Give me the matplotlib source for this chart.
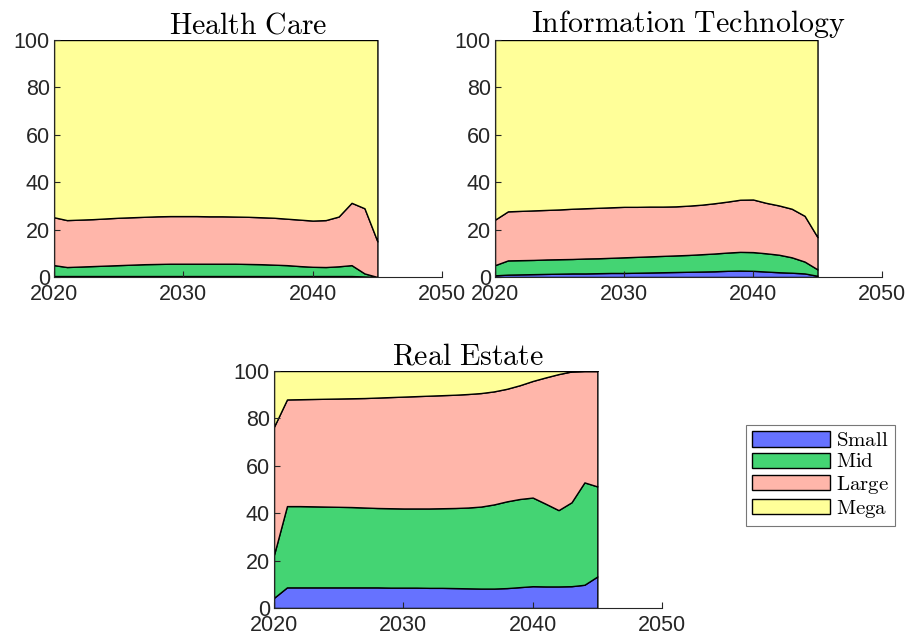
import matplotlib
matplotlib.use("Agg")
import matplotlib.pyplot as plt

plt.rcParams["mathtext.fontset"] = "cm"
plt.rcParams["font.family"] = ["Liberation Sans", "DejaVu Sans"]

years = list(range(2020, 2046))
size_classes = ["Small", "Mid", "Large", "Mega"]

# percentage share of each size class, per year
hc_small = [0.4] * 24 + [0.2, 0.0]
hc_mid = [4.6, 3.8, 4.0, 4.2, 4.4, 4.6, 4.8, 5.0, 5.1, 5.2, 5.2, 5.2, 5.2, 5.2, 5.2,
          5.1, 5.0, 4.8, 4.6, 4.2, 3.9, 3.8, 4.1, 4.6, 1.3, 0.0]
hc_large = [20.2, 19.8, 19.8, 19.8, 19.9, 20.0, 20.0, 20.0, 20.1, 20.1, 20.1, 20.1, 20.0,
            20.0, 19.9, 19.9, 19.8, 19.8, 19.6, 19.6, 19.5, 19.8, 21.0, 26.3, 27.5, 15.0]
hc_mega = [74.8, 76.0, 75.8, 75.6, 75.3, 75.0, 74.8, 74.6, 74.4, 74.3, 74.3, 74.3, 74.4,
           74.4, 74.5, 74.6, 74.8, 75.0, 75.4, 75.8, 76.2, 76.0, 74.5, 68.7, 71.0, 85.0]

it_small = [0.7, 1.0, 1.1, 1.2, 1.3, 1.4, 1.5, 1.5, 1.6, 1.7, 1.7, 1.8, 1.9, 2.0, 2.1,
            2.2, 2.3, 2.4, 2.6, 2.7, 2.6, 2.3, 2.0, 1.8, 1.5, 0.5]
it_mid = [4.3, 6.0, 6.0, 6.0, 6.1, 6.1, 6.1, 6.3, 6.3, 6.4, 6.6, 6.7, 6.8, 6.9, 7.0,
          7.1, 7.3, 7.5, 7.7, 7.9, 7.9, 7.7, 7.4, 6.5, 5.0, 2.7]
it_large = [19.2, 20.7, 20.8, 20.9, 20.9, 21.0, 21.2, 21.2, 21.3, 21.3, 21.3, 21.1, 21.0,
            20.8, 20.7, 20.8, 20.9, 21.2, 21.5, 22.0, 22.2, 21.3, 20.8, 20.5, 19.3, 13.6]
it_mega = [75.8, 72.3, 72.1, 71.9, 71.7, 71.5, 71.2, 71.0, 70.8, 70.6, 70.4, 70.4, 70.3,
           70.3, 70.2, 69.9, 69.5, 68.9, 68.2, 67.4, 67.3, 68.7, 69.8, 71.2, 74.2, 83.2]

re_small = [4.3, 8.7, 8.7, 8.7, 8.7, 8.7, 8.7, 8.7, 8.7, 8.6, 8.6, 8.6, 8.5, 8.5, 8.4,
            8.3, 8.2, 8.2, 8.4, 8.8, 9.2, 9.1, 9.1, 9.2, 9.8, 13.3]
re_mid = [18.2, 34.3, 34.3, 34.2, 34.1, 34.0, 33.9, 33.7, 33.5, 33.5, 33.4, 33.4, 33.5,
          33.6, 33.8, 34.1, 34.6, 35.5, 36.6, 37.2, 37.4, 34.9, 32.2, 35.4, 43.2, 38.0]
re_large = [54.0, 45.0, 45.1, 45.3, 45.5, 45.7, 45.9, 46.2, 46.6, 46.9, 47.2, 47.4, 47.6,
            47.7, 47.8, 47.9, 47.9, 47.7, 47.5, 48.0, 49.2, 53.3, 57.4, 55.2, 47.0, 48.7]
re_mega = [23.5, 12.0, 11.9, 11.8, 11.7, 11.6, 11.5, 11.4, 11.2, 11.0, 10.8, 10.6, 10.4,
           10.2, 10.0, 9.7, 9.3, 8.6, 7.5, 6.0, 4.2, 2.7, 1.3, 0.2, 0.0, 0.0]

colors = ["#6672FF", "#44D473", "#FFB6AA", "#FFFF99"]

fig = plt.figure(figsize=(9.11, 6.41), dpi=100)
ax_hc = fig.add_axes([0.0593, 0.5679, 0.426, 0.3697])
ax_it = fig.add_axes([0.5434, 0.5679, 0.4248, 0.3697])
ax_re = fig.add_axes([0.3008, 0.0515, 0.4259, 0.3697])

panels = [
    (ax_hc, "Health\\ Care", [hc_small, hc_mid, hc_large, hc_mega]),
    (ax_it, "Information\\ Technology", [it_small, it_mid, it_large, it_mega]),
    (ax_re, "Real\\ Estate", [re_small, re_mid, re_large, re_mega]),
]

for ax, title, series in panels:
    ax.stackplot(years, *series, colors=colors, edgecolor="black", linewidth=1.0,
                 labels=[r"$\mathrm{%s}$" % s for s in size_classes])
    ax.set_xlim(2020, 2050)
    ax.set_ylim(0, 100)
    ax.set_xticks([2020, 2030, 2040, 2050])
    ax.set_yticks([0, 20, 40, 60, 80, 100])
    ax.spines["top"].set_visible(False)
    ax.spines["right"].set_visible(False)
    for sp in ("left", "bottom"):
        ax.spines[sp].set_color("#262626")
        ax.spines[sp].set_linewidth(0.8)
    ax.tick_params(direction="in", length=4, width=0.8, colors="#262626",
                   labelsize=15.5, labelcolor="#262626")
    ax.tick_params(axis="x", pad=5)
    ax.tick_params(axis="y", pad=3)
    ax.set_title(r"$\mathrm{%s}$" % title, fontsize=21.5, pad=5)

handles, labels = ax_re.get_legend_handles_labels()
leg = fig.legend(handles, labels, loc="center", bbox_to_anchor=(820.5 / 911, 1 - 475.5 / 641),
                 fontsize=15, frameon=True, fancybox=False, handlelength=3.7, handleheight=0.75,
                 handletextpad=0.3, labelspacing=0.1, borderpad=0.3, borderaxespad=0)
leg.get_frame().set_edgecolor("#555555")
leg.get_frame().set_linewidth(0.8)

fig.savefig("out.png", dpi=100)
